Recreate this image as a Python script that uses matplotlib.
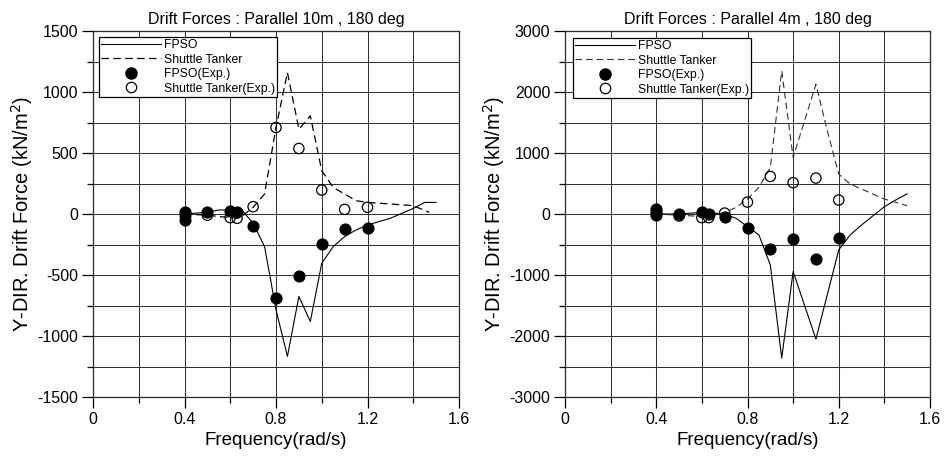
import matplotlib
matplotlib.use("Agg")
import matplotlib.pyplot as plt
from matplotlib.ticker import MultipleLocator, FuncFormatter
from matplotlib.lines import Line2D

plt.rcParams['font.family'] = ['Liberation Sans', 'DejaVu Sans']
plt.rcParams['axes.unicode_minus'] = False

# ---- Parallel 10 m, 180 deg ----
freq_fpso_10 = [0.40, 0.50, 0.55, 0.60, 0.65, 0.70, 0.75, 0.80, 0.85, 0.90, 0.95,
                1.00, 1.05, 1.10, 1.15, 1.20, 1.30, 1.35, 1.40, 1.45, 1.50]
fpso_10 = [0, 14, 33, 33, 33, -76, -267, -785, -1167, -676, -881,
           -404, -267, -185, -131, -90, -35, 5, 46, 95, 95]
freq_st_10 = [0.40, 0.50, 0.60, 0.63, 0.65, 0.70, 0.75, 0.80, 0.85, 0.90, 0.95,
              1.00, 1.05, 1.10, 1.15, 1.20, 1.30, 1.40, 1.47]
st_10 = [0, -10, -30, -35, -20, 55, 164, 709, 1159, 695, 805,
         355, 218, 164, 109, 95, 82, 68, 14]
exp_freq_fpso_10 = [0.40, 0.40, 0.40, 0.50, 0.60, 0.63, 0.70, 0.80, 0.90, 1.00, 1.10, 1.20]
exp_fpso_10 = [15, -10, -50, 20, 25, 20, -100, -690, -510, -245, -125, -112]
exp_freq_st_10 = [0.50, 0.60, 0.63, 0.70, 0.80, 0.90, 1.00, 1.10, 1.20]
exp_st_10 = [-10, -30, -35, 60, 709, 537, 196, 38, 55]

# ---- Parallel 4 m, 180 deg ----
freq_fpso_4 = [0.40, 0.50, 0.60, 0.65, 0.70, 0.75, 0.80, 0.85, 0.90, 0.95,
               1.00, 1.10, 1.20, 1.25, 1.30, 1.35, 1.40, 1.45, 1.50]
fpso_4 = [0, 0, 27, 15, -5, -70, -207, -343, -834, -2362,
          -944, -2051, -589, -343, -180, -30, 120, 230, 330]
freq_st_4 = [0.40, 0.50, 0.60, 0.65, 0.70, 0.75, 0.80, 0.85, 0.90, 0.95,
             1.00, 1.10, 1.15, 1.20, 1.25, 1.35, 1.40, 1.50]
st_4 = [0, -20, -40, -30, 27, 109, 245, 436, 764, 2345,
        927, 2127, 1364, 654, 491, 327, 245, 136]
exp_freq_fpso_4 = [0.40, 0.40, 0.40, 0.50, 0.60, 0.63, 0.70, 0.80, 0.90, 1.00, 1.10, 1.20]
exp_fpso_4 = [75, 25, -15, 0, 27, 0, -55, -224, -573, -409, -736, -393]
exp_freq_st_4 = [0.50, 0.60, 0.63, 0.70, 0.80, 0.90, 1.00, 1.10, 1.20]
exp_st_4 = [-33, -60, -60, 15, 195, 616, 513, 589, 229]

titles = ["Drift Forces : Parallel 10m , 180 deg", "Drift Forces : Parallel 4m , 180 deg"]
x_label = "Frequency(rad/s)"
y_label = "Y-DIR. Drift Force (kN/m$^2$)"
legend_labels = ["FPSO", "Shuttle Tanker", "FPSO(Exp.)", "Shuttle Tanker(Exp.)"]

fig = plt.figure(figsize=(9.5, 4.63), dpi=100)
W, H = 950, 463


def axes_at(x0, x1, y0, y1):
    return fig.add_axes([x0 / W, 1 - y1 / H, (x1 - x0) / W, (y1 - y0) / H])


ax1 = axes_at(93, 459, 31, 397)
ax2 = axes_at(565, 930, 31, 397)

panels = [
    (ax1, freq_fpso_10, fpso_10, freq_st_10, st_10, exp_freq_fpso_10, exp_fpso_10,
     exp_freq_st_10, exp_st_10, 1500, 500, 250, 0.9, 'black'),
    (ax2, freq_fpso_4, fpso_4, freq_st_4, st_4, exp_freq_fpso_4, exp_fpso_4,
     exp_freq_st_4, exp_st_4, 3000, 1000, 500, 0.8, '#333333'),
]

for i, (ax, fx, fy, sx, sy, efx, efy, esx, esy, ylim, ymaj, ymin, dlw, dcol) in enumerate(panels):
    ax.plot(fx, fy, color='black', lw=0.8, zorder=3)
    ax.plot(sx, sy, color=dcol, lw=dlw, ls=(0, (6, 3.5)), zorder=3)
    ax.scatter(efx, efy, s=60, facecolor='black', edgecolor='black', lw=1, zorder=4)
    ax.scatter(esx, esy, s=55, facecolor='none', edgecolor='black', lw=0.9, zorder=4)

    ax.set_xlim(0, 1.6)
    ax.set_ylim(-ylim, ylim)
    ax.xaxis.set_major_locator(MultipleLocator(0.4))
    ax.xaxis.set_minor_locator(MultipleLocator(0.2))
    ax.yaxis.set_major_locator(MultipleLocator(ymaj))
    ax.yaxis.set_minor_locator(MultipleLocator(ymin))
    ax.xaxis.set_major_formatter(FuncFormatter(
        lambda v, p: "0" if abs(v) < 1e-9 else f"{v:.1f}"))
    ax.yaxis.set_major_formatter(FuncFormatter(lambda v, p: f"{v:.0f}"))
    ax.grid(which='both', color='#333333', lw=0.75, zorder=1)
    ax.set_axisbelow(True)
    ax.tick_params(which='major', direction='out', length=8, width=0.9,
                   labelsize=11.5, pad=2.5, top=False, right=False)
    ax.tick_params(which='minor', direction='out', length=4.5, width=0.9,
                   top=False, right=False)
    for sp in ax.spines.values():
        sp.set_linewidth(0.9)
        sp.set_color('#2a2a2a')

    ax.set_title(titles[i], fontsize=11.5, pad=5)
    ax.set_xlabel(x_label, fontsize=13.5, labelpad=4)
    ax.set_ylabel(y_label, fontsize=14.5, labelpad=2)

    handles = [
        Line2D([], [], color='black', lw=0.8),
        Line2D([], [], color=dcol, lw=dlw, ls=(0, (6, 3.5))),
        Line2D([], [], ls='none', marker='o', ms=8, mfc='black', mec='black'),
        Line2D([], [], ls='none', marker='o', ms=7.5, mfc='none', mec='black', mew=0.9),
    ]
    w_ax = 366 if i == 0 else 365
    off_x = 6 if i == 0 else 8
    off_y = 6 if i == 0 else 7
    leg = ax.legend(handles, legend_labels, loc='upper left',
                    bbox_to_anchor=(off_x / w_ax, 1 - off_y / 366),
                    borderaxespad=0, fontsize=8.8, handlelength=4.9,
                    handletextpad=0.2, labelspacing=0.2, borderpad=0.18,
                    fancybox=False, shadow=False, framealpha=1,
                    edgecolor='black', numpoints=1)
    leg.get_frame().set_linewidth(0.9)
    leg.set_zorder(5)

fig.savefig("out.png", dpi=100)
